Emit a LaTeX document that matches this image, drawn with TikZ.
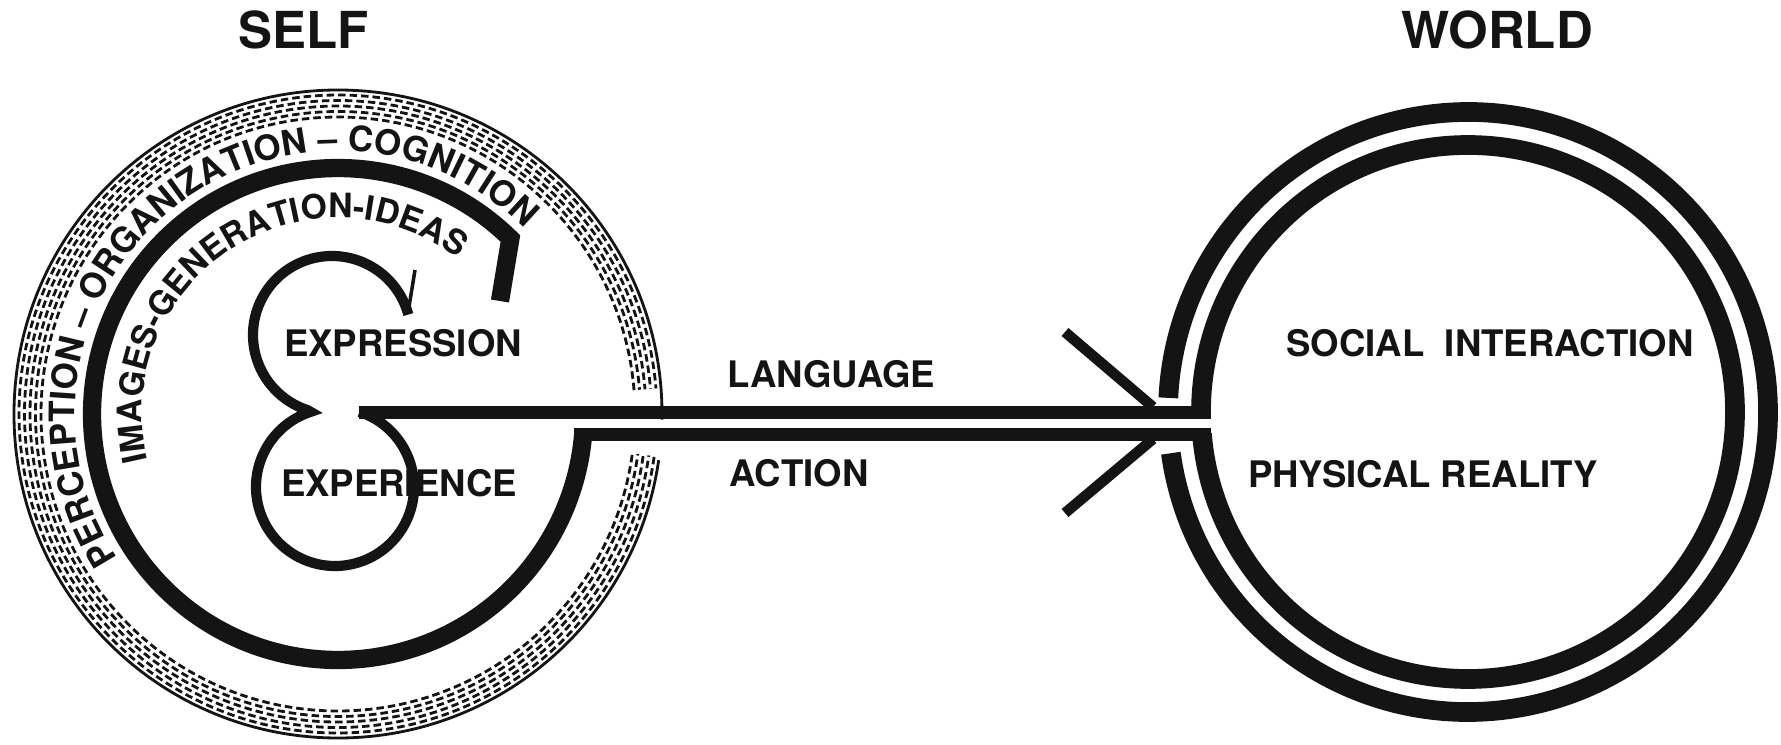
\documentclass[tikz,border=0pt]{standalone}
\usepackage{fontspec}
\setmainfont{TeX Gyre Heros}
\usepackage{tikz}
\usetikzlibrary{decorations.text}
\definecolor{ink}{HTML}{141414}

\begin{document}
\begin{tikzpicture}[
  every node/.style={font=\bfseries\fontsize{10.4}{12}\selectfont, text=ink, inner sep=0pt},
  title/.style={font=\bfseries\fontsize{14.5}{17}\selectfont},
  rim/.style={draw=ink, line width=0.8pt},
  hatchrow/.style={draw=ink, line width=0.8pt, dash pattern=on 0.075cm off 0.04cm},
  band/.style={draw=ink, line width=5.2pt, line join=miter},
  wall/.style={draw=ink, line width=3.7pt},
  loopline/.style={draw=ink, line width=2.9pt, line join=miter},
  barb/.style={draw=ink, line width=3pt},
  ring/.style={draw=ink, line width=5.6pt}
]
\fill[white] (0,0) rectangle (17.81,7.44);
\useasboundingbox (0,0) rectangle (17.81,7.44);

\coordinate (self) at (3.38,3.30);
\coordinate (world) at (14.68,3.32);
\coordinate (upperloop) at (3.32,4.09);
\coordinate (lowerloop) at (3.35,2.57);

% titles
\node[title] (selflbl) at (3.04,7.14) {SELF};
\node[title] (worldlbl) at (14.97,7.14) {WORLD};

% self: hatched rim
\draw[rim] ([shift={(-1:3.24)}]self) arc[start angle=-1, end angle=351.8, radius=3.24];
\foreach \r/\ph in {2.97/0, 3.025/0.05, 3.08/0.02, 3.135/0.07, 3.19/0.035}
  \draw[hatchrow, dash phase=\ph cm] ([shift={(4.6:\r)}]self) arc[start angle=4.6, end angle=352.4, radius=\r];

\path[decorate, decoration={text along path, text align=center,
    text={|\bfseries\fontsize{9.95}{12}\selectfont\color{ink}|PERCEPTION – ORGANIZATION – COGNITION}}]
  ([shift={(220:2.63)}]self) arc[start angle=220, end angle=38, radius=2.63];

% self: thick band
\draw[band] (5.00,4.43) -- ([shift={(45.5:2.46)}]self) arc[start angle=45.5, end angle=355.3, radius=2.46];

\path[decorate, decoration={text along path, text align=center,
    text={|\bfseries\fontsize{9.6}{12}\selectfont\color{ink}|IMAGES-GENERATION-IDEAS}}]
  ([shift={(200:1.96)}]self) arc[start angle=200, end angle=46, radius=1.96];

% expression / experience loops
\draw[ink, line width=1pt] (4.15,4.74) -- (4.08,4.31);
\draw[loopline] ([shift={(15:0.79)}]upperloop) arc[start angle=15, end angle=252, radius=0.79]
  -- ([shift={(108:0.79)}]lowerloop) arc[start angle=108, end angle=432, radius=0.79];

\node (expr) at (4.03,4.01) {EXPRESSION};
\node (expe) at (3.99,2.61) {EXPERIENCE};

% channel
\draw[wall] (3.594,3.32) -- (12.11,3.32);
\draw[wall] (5.737,3.10) -- (12.11,3.10);
\draw[barb] (10.65,4.12) -- (11.53,3.37);
\draw[barb] (11.53,3.05) -- (10.65,2.31);

\node[anchor=west] (lang) at (7.27,3.70) {LANGUAGE};
\node[anchor=west] (act) at (7.29,2.71) {ACTION};

% world
\draw[ring] ([shift={(180:2.67)}]world) arc[start angle=180, end angle=-175.3, radius=2.67];
\draw[ring] ([shift={(187.9:3.00)}]world) arc[start angle=187.9, end angle=537.3, radius=3.00];

\node (social) at (14.90,4.01) {SOCIAL\ \ INTERACTION};
\node (phys) at (14.23,2.70) {PHYSICAL REALITY};
\end{tikzpicture}
\end{document}
